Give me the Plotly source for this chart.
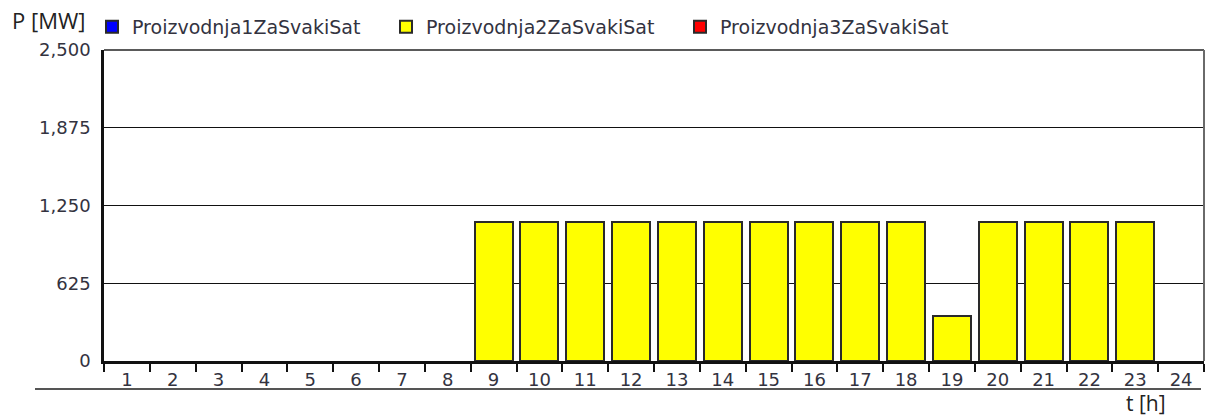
import plotly.graph_objects as go

hours = [str(h) for h in range(1, 25)]
proizvodnja1 = [0] * 24
proizvodnja2 = [0, 0, 0, 0, 0, 0, 0, 0,
                1120, 1120, 1120, 1120, 1120, 1120, 1120, 1120, 1120, 1120,
                365, 1120, 1120, 1120, 1120, 0]
proizvodnja3 = [0] * 24
y_ticks = [0, 625, 1250, 1875, 2500]

series = [
    ("Proizvodnja1ZaSvakiSat", proizvodnja1, "#0000FF"),
    ("Proizvodnja2ZaSvakiSat", proizvodnja2, "#FFFF00"),
    ("Proizvodnja3ZaSvakiSat", proizvodnja3, "#FF0000"),
]

fig = go.Figure()
for name, vals, col in series:
    fig.add_trace(go.Bar(
        x=hours, y=[v if v else None for v in vals], name=name,
        marker=dict(color=col, line=dict(color="#2a2a2a", width=2)),
    ))

W, H = 1206, 418
L, R, T, B = 104, 2, 50, 57
pw, ph = W - L - R, H - T - B

TXT = "#33333f"
fig.update_layout(
    width=W, height=H,
    margin=dict(l=L, r=R, t=T, b=B),
    barmode="stack", bargap=0.17,
    plot_bgcolor="white", paper_bgcolor="white",
    font=dict(family="DejaVu Sans, Verdana, sans-serif", size=18, color=TXT),
    showlegend=True,
    legend=dict(orientation="h", x=(92 - L) / pw, xanchor="left",
                y=(H - B - 8) / ph, yanchor="top",
                font=dict(size=19, color=TXT),
                entrywidth=249, entrywidthmode="pixels",
                bgcolor="rgba(0,0,0,0)", traceorder="normal"),
)
fig.update_xaxes(
    type="category", showgrid=False,
    showline=True, linecolor="#111111", linewidth=3,
    ticks="outside", tickson="boundaries", ticklen=8, tickwidth=2, tickcolor="#111111",
    tickfont=dict(size=18, color=TXT),
)
fig.update_yaxes(
    range=[0, 2500], tickvals=y_ticks, tickformat=",",
    showgrid=True, gridcolor="#111111", gridwidth=1,
    showline=True, linecolor="#111111", linewidth=2.5,
    ticks="outside", ticklen=7, tickcolor="rgba(0,0,0,0)",
    tickfont=dict(size=18, color=TXT), zeroline=False,
)

# top and right frame
fig.add_shape(type="line", xref="paper", yref="paper", x0=0, x1=1, y0=1, y1=1,
              line=dict(color="#5a5a5a", width=2))
fig.add_shape(type="line", xref="paper", yref="paper", x0=1, x1=1, y0=0, y1=1,
              line=dict(color="#6a6a6a", width=2))
# bottom separator line
sep_y = -(389 - (H - B)) / ph
fig.add_shape(type="line", xref="paper", yref="paper",
              x0=(35 - L) / pw, x1=(1201 - L) / pw, y0=sep_y, y1=sep_y,
              line=dict(color="#555555", width=2))

fig.add_annotation(text="P [MW]", xref="paper", yref="paper",
                   x=(10 - L) / pw, xanchor="left", y=(H - B - 20) / ph, yanchor="middle",
                   showarrow=False, font=dict(family="Open Sans, sans-serif", size=22, color="#222222"))
fig.add_annotation(text="t [h]", xref="paper", yref="paper",
                   x=(1124 - L) / pw, xanchor="left", y=-(403 - (H - B)) / ph, yanchor="middle",
                   showarrow=False, font=dict(family="Open Sans, sans-serif", size=21, color="#222222"))

fig.write_html("out.html", config={"displayModeBar": False},
               post_script="document.body.style.margin='0px';document.body.style.overflow='hidden';")
